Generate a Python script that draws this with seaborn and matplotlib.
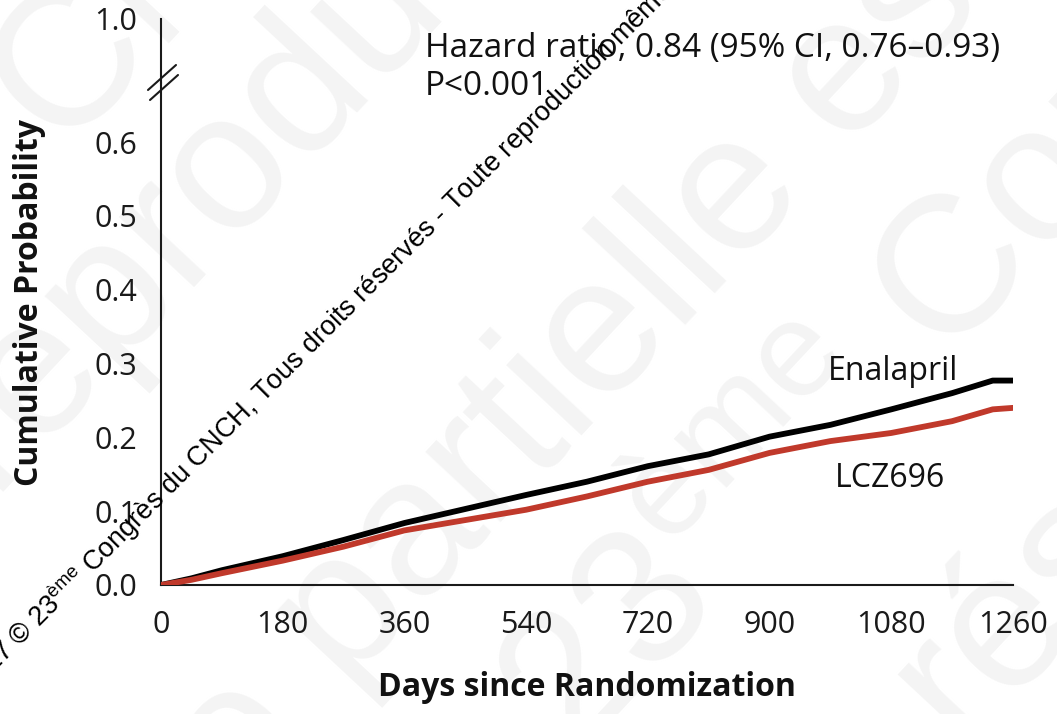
import matplotlib
matplotlib.use("Agg")
import matplotlib.pyplot as plt
import seaborn as sns
import pandas as pd
from matplotlib.lines import Line2D

# Kaplan-Meier style cumulative incidence, days since randomization
days = [0, 45, 90, 180, 270, 360, 450, 540, 630, 720, 810, 900, 990, 1080, 1170, 1230, 1260]
enalapril = [0.0, 0.009, 0.020, 0.039, 0.061, 0.084, 0.103, 0.122, 0.140, 0.161,
             0.177, 0.201, 0.217, 0.238, 0.260, 0.277, 0.277]
lcz696 = [0.0, 0.007, 0.016, 0.033, 0.052, 0.074, 0.088, 0.102, 0.120, 0.140,
          0.156, 0.179, 0.195, 0.206, 0.222, 0.238, 0.240]

x_ticks = [0, 180, 360, 540, 720, 900, 1080, 1260]
y_ticks = [0.0, 0.1, 0.2, 0.3, 0.4, 0.5, 0.6]
y_top_tick = [1.0]

hr_text = "Hazard ratio, 0.84 (95% CI, 0.76\u20130.93)"
p_text = "P<0.001"
notice = ("2017 \u00a9 23$^{\\mathrm{\u00e8me}}$ Congr\u00e8s du CNCH, Tous droits r\u00e9serv\u00e9s"
          " - Toute reproduction m\u00eame partielle est interdite")

sns.set_theme(style="white")
plt.rcParams["font.family"] = ["Open Sans", "DejaVu Sans"]
plt.rcParams["mathtext.fontset"] = "custom"
plt.rcParams["mathtext.rm"] = "Liberation Sans"

W, H = 1057, 714
fig = plt.figure(figsize=(W / 100, H / 100), dpi=100)


def fx(px):
    return px / W


def fy(py):
    return 1 - py / H


INK = "#1a1a1a"

ax = fig.add_axes([fx(161), fy(585), fx(1013) - fx(161), fy(83) - fy(585)])
ax_top = fig.add_axes([fx(161), fy(83), fx(1013) - fx(161), fy(19) - fy(83)])
ax.patch.set_alpha(0)
ax_top.patch.set_alpha(0)

df = pd.DataFrame({
    "day": days * 2,
    "prob": enalapril + lcz696,
    "group": ["Enalapril"] * len(days) + ["LCZ696"] * len(days),
})
sns.lineplot(data=df, x="day", y="prob", hue="group",
             palette={"Enalapril": "#000000", "LCZ696": "#c0392b"},
             linewidth=4.2, legend=False, ax=ax, zorder=3)

ax.set_xlim(0, 1260)
ax.set_ylim(0, 0.6802)
ax.set_xticks(x_ticks)
ax.set_xticklabels([str(v) for v in x_ticks])
ax.set_yticks(y_ticks)
ax.set_yticklabels([f"{v:.1f}" for v in y_ticks])
ax.set_xlabel("")
ax.set_ylabel("")
for s in ["top", "right"]:
    ax.spines[s].set_visible(False)
for s in ["left", "bottom"]:
    ax.spines[s].set_linewidth(1.5)
    ax.spines[s].set_color(INK)
ax.tick_params(axis="both", direction="out", length=13, width=1.5, color=INK,
               labelsize=22, labelcolor=INK)
ax.tick_params(axis="y", pad=4)
ax.tick_params(axis="x", pad=5)

ax_top.set_ylim(0.9, 1.0)
ax_top.set_xlim(0, 1260)
ax_top.set_yticks(y_top_tick)
ax_top.set_yticklabels(["1.0"])
ax_top.set_xticks([])
for s in ["top", "right", "bottom"]:
    ax_top.spines[s].set_visible(False)
ax_top.spines["left"].set_linewidth(1.5)
ax_top.spines["left"].set_color(INK)
ax_top.tick_params(axis="y", direction="out", length=13, width=1.5, color=INK,
                   labelsize=22, labelcolor=INK, pad=4)

# axis break marks
for (x0, y0, x1, y1) in [(148, 90, 176, 65), (150, 100, 178, 75)]:
    fig.add_artist(Line2D([fx(x0), fx(x1)], [fy(y0), fy(y1)], color=INK,
                          linewidth=1.5, transform=fig.transFigure))

# axis titles
fig.text(fx(587), fy(688), "Days since Randomization", ha="center", va="center",
         fontsize=23, fontweight="bold", color="#111111")
fig.text(fx(30), fy(302), "Cumulative Probability", ha="center", va="center",
         rotation=90, fontsize=23, fontweight="bold", color="#111111")

# statistics and curve names
fig.text(fx(425), fy(57), hr_text, ha="left", va="baseline", fontsize=24, color="#111111")
fig.text(fx(425), fy(95), p_text, ha="left", va="baseline", fontsize=24, color="#111111")
fig.text(fx(828), fy(380), "Enalapril", ha="left", va="baseline", fontsize=23, color="#111111")
fig.text(fx(835), fy(487), "LCZ696", ha="left", va="baseline", fontsize=23, color="#111111")

# large faint background watermark
WM = dict(rotation=47, rotation_mode="anchor", va="baseline", fontsize=140,
          family="Liberation Sans", color="#f4f4f4", zorder=-1)
fig.text(fx(60), fy(150), "CNCH,", ha="left", **WM)
fig.text(fx(-10), fy(492), "reproduction", ha="left", **WM)
fig.text(fx(309), fy(730), "m\u00eame", ha="right", **WM)
fig.text(fx(345), fy(690), "partielle est", ha="left", **WM)
fig.text(fx(575), fy(760), "23$^{\\mathrm{\u00e8me}}$ Congr\u00e8s", ha="left", **WM)
fig.text(fx(960), fy(745), "r\u00e9serv\u00e9s", ha="left", **WM)

# diagonal copyright notice
fig.text(fx(-28), fy(695), notice, rotation=45, rotation_mode="anchor", ha="left",
         va="baseline", fontsize=19.5, family="Liberation Sans", color="#000000", zorder=10)

fig.savefig("out.png", dpi=100)
